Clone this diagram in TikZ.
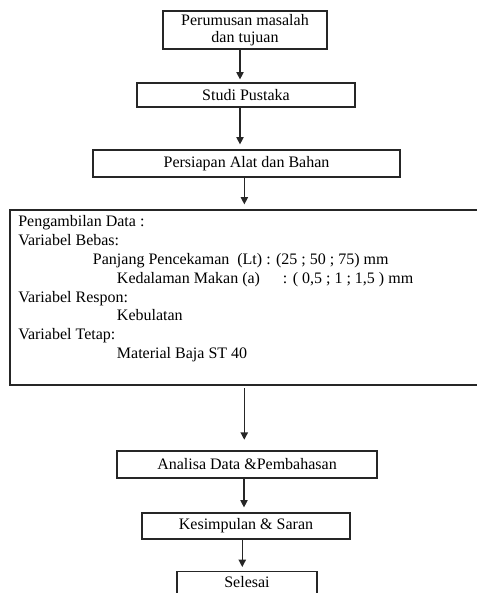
\documentclass[tikz,border=0pt]{standalone}
\usepackage{fontspec}
\setmainfont{Liberation Serif}
\usetikzlibrary{arrows.meta,positioning,calc}
\tikzset{
  stepbox/.style={
    draw=black!85,
    line width=0.9pt,
    align=center,
    inner sep=0pt,
    font=\fontsize{12}{12.5}\selectfont
  },
  flowarrow/.style={-{Triangle[length=5.5pt,width=5.5pt]},line width=0.9pt,draw=black!85},
  datatext/.style={anchor=base west,inner sep=0pt,font=\fontsize{12}{14}\selectfont}
}
\begin{document}
\begin{tikzpicture}[x=0.75pt,y=-0.75pt]
  \useasboundingbox (0,0) rectangle (477,593);

  \node[stepbox,minimum width=123pt,minimum height=28.5pt] (perumusan) at (245,30) {
    Perumusan masalah\\dan tujuan};
  \node[stepbox,minimum width=163.5pt,minimum height=18pt] (studi) at (246,95) {
    Studi Pustaka};
  \node[stepbox,minimum width=230.25pt,minimum height=20.25pt] (persiapan) at (246.5,163.5) {
    Persiapan Alat dan Bahan};
  \node[stepbox,minimum width=354pt,minimum height=131.25pt] (data) at (246,297.5) {};
  \node[stepbox,minimum width=195pt,minimum height=20.25pt] (analisa) at (247,464.5) {
    Analisa Data \&Pembahasan};
  \node[stepbox,minimum width=156pt,minimum height=19.5pt] (kesimpulan) at (246,526) {
    Kesimpulan \& Saran};
  \node[stepbox,minimum width=105pt,anchor=north,inner ysep=3.5pt,text depth=25pt] (selesai) at (247,571) {
    Selesai};

  % isi kotak pengambilan data
  \node[datatext] (judul) at (18,226.7) {Pengambilan Data :};
  \node[datatext] (bebas) at (18,245) {Variabel Bebas:};
  \node[datatext] (panjang) at (92.7,264) {Panjang Pencekaman~ (Lt) : (25 ; 50 ; 75) mm};
  \node[datatext] (kedalaman) at (116.7,283) {\makebox[124.5pt][l]{Kedalaman Makan (a)}: ( 0,5 ; 1 ; 1,5 ) mm};
  \node[datatext] (respon) at (18,302) {Variabel Respon:};
  \node[datatext] (kebulatan) at (116.7,320.7) {Kebulatan};
  \node[datatext] (tetap) at (18,339) {Variabel Tetap:};
  \node[datatext] (material) at (116.7,358) {Material Baja ST 40};

  \draw[flowarrow,shorten >=2.25pt] ([xshift=-3.75pt]perumusan.south) -- ([xshift=-3.75pt]perumusan.south |- studi.north);
  \draw[flowarrow,shorten >=3.75pt] ([xshift=-4.5pt]studi.south) -- ([xshift=-4.5pt]studi.south |- persiapan.north);
  \draw[flowarrow,shorten >=3.75pt] ([xshift=-1.6pt]persiapan.south) -- ([xshift=-1.6pt]persiapan.south |- data.north);
  \draw[flowarrow,shorten <=2pt,shorten >=8pt] ([xshift=-1.3pt]data.south) -- ([xshift=-1.3pt]data.south |- analisa.north);
  \draw[flowarrow,shorten >=3.75pt] ([xshift=-2.25pt]analisa.south) -- ([xshift=-2.25pt]analisa.south |- kesimpulan.north);
  \draw[flowarrow,shorten >=3pt] ([xshift=-2.8pt]kesimpulan.south) -- ([xshift=-2.8pt]kesimpulan.south |- selesai.north);
\end{tikzpicture}
\end{document}
